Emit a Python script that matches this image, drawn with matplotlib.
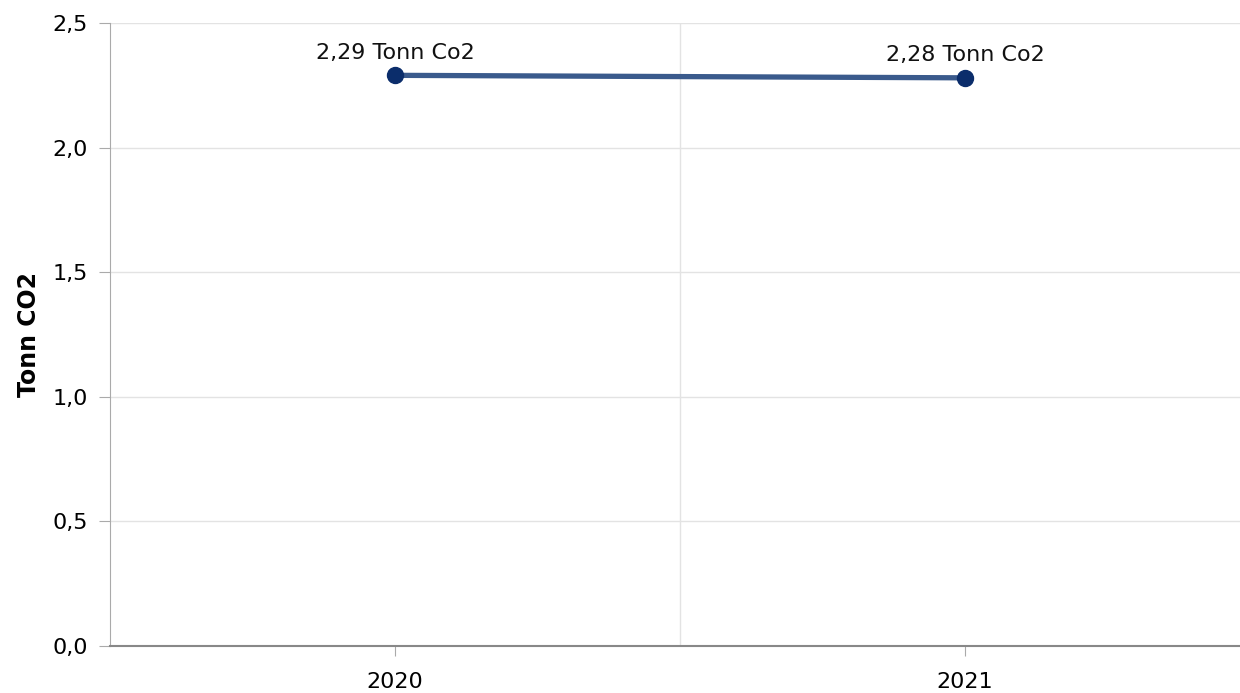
import matplotlib
matplotlib.use("Agg")
import matplotlib.pyplot as plt

years = ["2020", "2021"]
values = [2.29, 2.28]
labels = ["2,29 Tonn Co2", "2,28 Tonn Co2"]
yticks = [0.0, 0.5, 1.0, 1.5, 2.0, 2.5]
ytick_labels = ["0,0", "0,5", "1,0", "1,5", "2,0", "2,5"]

plt.rcParams['font.family'] = ['DejaVu Sans']
fig = plt.figure(figsize=(12.4, 6.93), dpi=100)
ax = fig.add_axes([110/1240, 47/693, 1 - 110/1240, (646-23)/693])

x = list(range(len(years)))
ax.plot(x, values, color="#3a5a8c", lw=3.8, zorder=3, solid_capstyle="butt")
ax.plot(x, values, 'o', color="#0b2d6b", markersize=11.5, zorder=4)
for xi, v, lab in zip(x, values, labels):
    ax.annotate(lab, (xi, v), xytext=(0, 9), textcoords="offset points",
                ha="center", va="bottom", fontsize=16, color="#111111")

ax.set_xlim(-0.5, 1.4825)
ax.set_ylim(0, 2.5)
ax.set_xticks(x)
ax.set_xticklabels(years, fontsize=16)
ax.set_yticks(yticks)
ax.set_yticklabels(ytick_labels, fontsize=16)
ax.set_xticks([0.5], minor=True)

ax.grid(axis="y", color="#e3e3e3", lw=1)
ax.grid(axis="x", which="minor", color="#e3e3e3", lw=1)
ax.set_axisbelow(True)

for s in ["top", "right"]:
    ax.spines[s].set_visible(False)
ax.spines["left"].set_color("#aaaaaa")
ax.spines["bottom"].set_color("#888888")
ax.spines["bottom"].set_linewidth(1.5)
ax.tick_params(axis="y", length=8, color="#aaaaaa", pad=8)
ax.tick_params(axis="x", length=7, color="#aaaaaa", pad=12)
ax.tick_params(axis="x", which="minor", length=0)

ax.set_ylabel("Tonn CO2", fontsize=17, fontweight="bold", labelpad=8)

fig.savefig("out.png", dpi=100)
